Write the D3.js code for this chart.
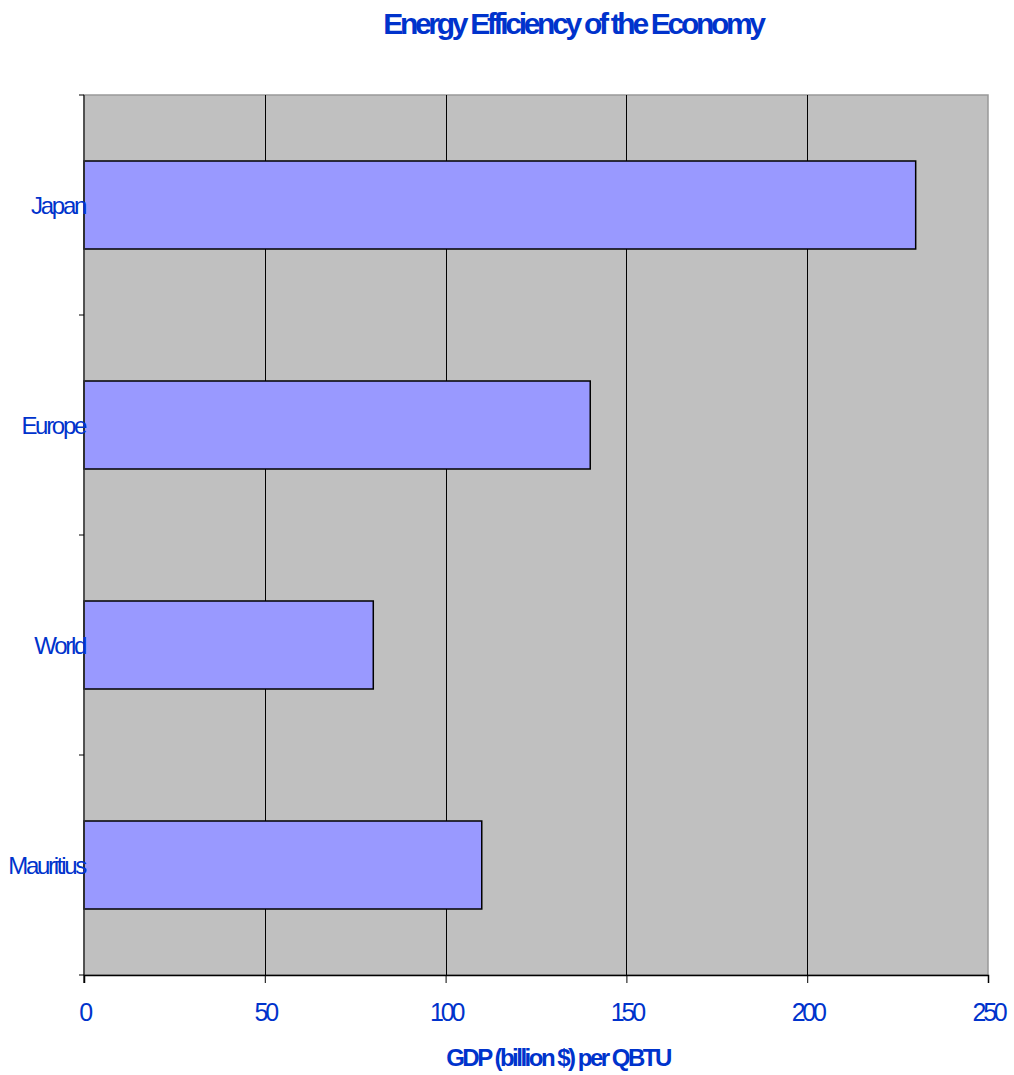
<!DOCTYPE html>
<html>
<head>
<meta charset="utf-8">
<script src="https://cdn.jsdelivr.net/npm/d3@7"></script>
<style>
  html, body { margin: 0; padding: 0; background: #ffffff; }
  svg { display: block; font-family: "Liberation Sans", Arial, sans-serif; }
</style>
</head>
<body>
<svg id="chart" width="1014" height="1075"></svg>
<script>
// Chart data
const categories = ["Japan", "Europe", "World", "Mauritius"];
const values = [230, 140, 80, 110];
const xTicks = [0, 50, 100, 150, 200, 250];
const titleText = "Energy Efficiency of the Economy";
const xTitleText = "GDP (billion $) per QBTU";

const svg = d3.select("#chart");
const textColor = "#0033cc";

const plot = { left: 84, right: 988, top: 95, bottom: 975 };

const x = d3.scaleLinear().domain([0, 250]).range([plot.left, plot.right]);
const y = d3.scaleBand().domain(categories).range([plot.top, plot.bottom])
  .paddingInner(0.6).paddingOuter(0.3);

// Plot background
svg.append("rect")
  .attr("x", plot.left).attr("y", plot.top)
  .attr("width", plot.right - plot.left).attr("height", plot.bottom - plot.top)
  .attr("fill", "#c0c0c0")
  .attr("stroke", "#999999").attr("stroke-width", 1.5);

// Vertical gridlines
svg.append("g").selectAll("line")
  .data(xTicks.slice(1, -1))
  .join("line")
  .attr("x1", d => Math.round(x(d)) + 0.5).attr("x2", d => Math.round(x(d)) + 0.5)
  .attr("y1", plot.top).attr("y2", plot.bottom)
  .attr("stroke", "#000").attr("stroke-width", 1);

// Bars
svg.append("g").selectAll("rect")
  .data(categories.map((c, i) => ({ c, v: values[i] })))
  .join("rect")
  .attr("x", x(0))
  .attr("y", d => y(d.c))
  .attr("width", d => x(d.v) - x(0))
  .attr("height", y.bandwidth())
  .attr("fill", "#9999ff")
  .attr("stroke", "#000").attr("stroke-width", 1.5);

// Left axis line and tick marks at band boundaries
const boundaries = d3.range(categories.length + 1).map(i => plot.top + i * (plot.bottom - plot.top) / categories.length);
svg.append("line")
  .attr("x1", plot.left).attr("x2", plot.left)
  .attr("y1", plot.top).attr("y2", plot.bottom + 8)
  .attr("stroke", "#333").attr("stroke-width", 1.5);
svg.append("g").selectAll("line")
  .data(boundaries)
  .join("line")
  .attr("x1", plot.left - 5).attr("x2", plot.left)
  .attr("y1", d => d).attr("y2", d => d)
  .attr("stroke", "#000").attr("stroke-width", 1);

// Bottom axis
const xAxis = d3.axisBottom(x).tickValues(xTicks).tickSize(8).tickPadding(20)
  .tickFormat(d3.format("d"));
const gx = svg.append("g")
  .attr("transform", `translate(0,${plot.bottom})`)
  .call(xAxis);
gx.select(".domain").attr("stroke", "#000").attr("stroke-width", 1.5);
gx.selectAll(".tick line").attr("stroke", "#000");
gx.selectAll(".tick text")
  .attr("fill", textColor)
  .attr("font-size", 25)
  .attr("letter-spacing", -3.2)
  .attr("font-family", "Liberation Sans, Arial, sans-serif");

// Category labels
svg.append("g").selectAll("text")
  .data(categories)
  .join("text")
  .attr("x", plot.left + 1)
  .attr("y", d => y(d) + y.bandwidth() / 2 + 1)
  .attr("dy", "0.35em")
  .attr("text-anchor", "end")
  .attr("fill", textColor)
  .attr("font-size", 24)
  .attr("letter-spacing", -2.3)
  .text(d => d);

// Title
svg.append("text")
  .attr("x", 573).attr("y", 34)
  .attr("text-anchor", "middle")
  .attr("fill", textColor)
  .attr("font-size", 30)
  .attr("font-weight", "bold")
  .attr("letter-spacing", -3.3)
  .text(titleText);

// X axis title
svg.append("text")
  .attr("x", 558).attr("y", 1066)
  .attr("text-anchor", "middle")
  .attr("fill", textColor)
  .attr("font-size", 24)
  .attr("font-weight", "bold")
  .attr("letter-spacing", -2.5)
  .text(xTitleText);
</script>
</body>
</html>
